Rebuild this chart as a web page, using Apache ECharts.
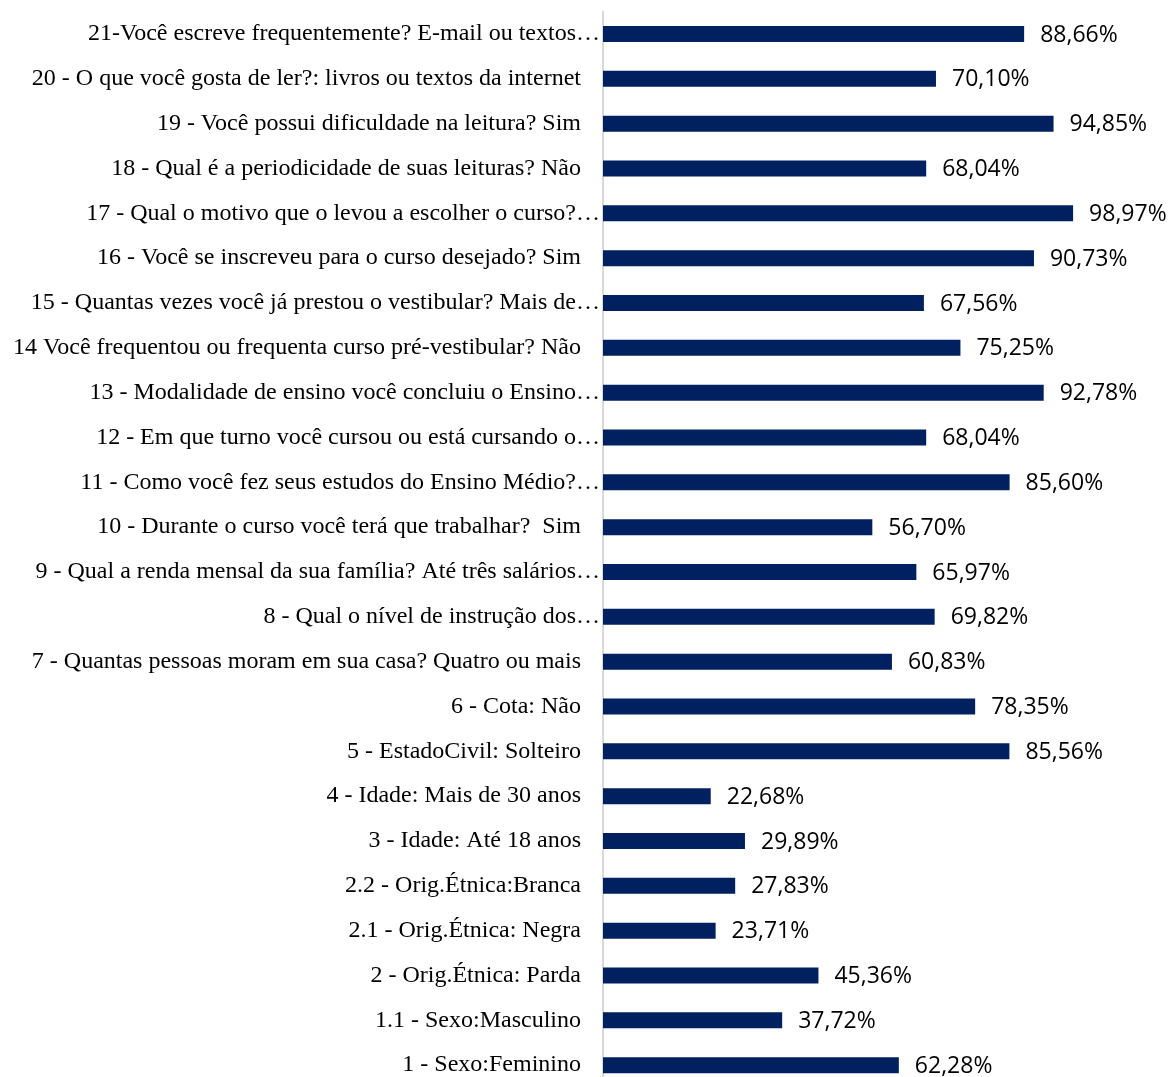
<!DOCTYPE html>
<html>
<head>
<meta charset="utf-8">
<script src="https://cdn.jsdelivr.net/npm/echarts@6/dist/echarts.min.js"></script>
<style>
  html, body { margin: 0; padding: 0; background: #ffffff; }
  #chart { width: 1171px; height: 1077px; }
</style>
</head>
<body>
<div id="chart"></div>
<script>
// Survey questions, listed top to bottom
const categories = [
  "21-Você escreve frequentemente? E-mail ou textos…",
  "20 - O que você gosta de ler?: livros ou textos da internet",
  "19 - Você possui dificuldade na leitura? Sim",
  "18 - Qual é a periodicidade de suas leituras? Não",
  "17 - Qual o motivo que o levou a escolher o curso?…",
  "16 - Você se inscreveu para o curso desejado? Sim",
  "15 - Quantas vezes você já prestou o vestibular? Mais de…",
  "14 Você frequentou ou frequenta curso pré-vestibular? Não",
  "13 - Modalidade de ensino você concluiu o Ensino…",
  "12 - Em que turno você cursou ou está cursando o…",
  "11 - Como você fez seus estudos do Ensino Médio?…",
  "10 - Durante o curso você terá que trabalhar?  Sim",
  "9 - Qual a renda mensal da sua família? Até três salários…",
  "8 - Qual o nível de instrução dos…",
  "7 - Quantas pessoas moram em sua casa? Quatro ou mais",
  "6 - Cota: Não",
  "5 - EstadoCivil: Solteiro",
  "4 - Idade: Mais de 30 anos",
  "3 - Idade: Até 18 anos",
  "2.2 - Orig.Étnica:Branca",
  "2.1 - Orig.Étnica: Negra",
  "2 - Orig.Étnica: Parda",
  "1.1 - Sexo:Masculino",
  "1 - Sexo:Feminino"
];

// Share of respondents (%)
const percentages = [
  88.66, 70.10, 94.85, 68.04, 98.97, 90.73, 67.56, 75.25,
  92.78, 68.04, 85.60, 56.70, 65.97, 69.82, 60.83, 78.35,
  85.56, 22.68, 29.89, 27.83, 23.71, 45.36, 37.72, 62.28
];

const chart = echarts.init(document.getElementById('chart'), null, { renderer: 'canvas' });

const fmtPct = v => v.toFixed(2).replace('.', ',') + '%';
const serif = '"Liberation Serif", "Times New Roman", serif';

chart.setOption({
  backgroundColor: '#ffffff',
  animation: false,
  grid: {
    left: 603, right: 93, top: 11.6, height: 1076,
    containLabel: false,
    outerBoundsMode: 'none'
  },
  xAxis: {
    type: 'value',
    min: 0,
    max: 100,
    show: false
  },
  yAxis: {
    type: 'category',
    inverse: true,
    data: categories,
    axisLine: { show: true, lineStyle: { color: '#d9d9d9', width: 2 } },
    axisTick: { show: false },
    splitLine: { show: false },
    axisLabel: {
      margin: 3,
      formatter: function (value) {
        return value.endsWith('…') ? '{t|' + value + '}' : '{n|' + value + '}';
      },
      rich: {
        n: { fontFamily: serif, fontSize: 24, color: '#000000', padding: [0, 19, 0, 0] },
        t: { fontFamily: serif, fontSize: 24, color: '#000000' }
      }
    }
  },
  series: [{
    type: 'bar',
    data: percentages,
    barWidth: 16,
    itemStyle: { color: '#002060' },
    label: {
      show: true,
      position: 'right',
      distance: 16,
      fontFamily: '"Open Sans", "Liberation Sans", sans-serif',
      fontSize: 23,
      color: '#000000',
      offset: [0, 1],
      formatter: p => fmtPct(p.value)
    }
  }]
});
</script>
</body>
</html>
